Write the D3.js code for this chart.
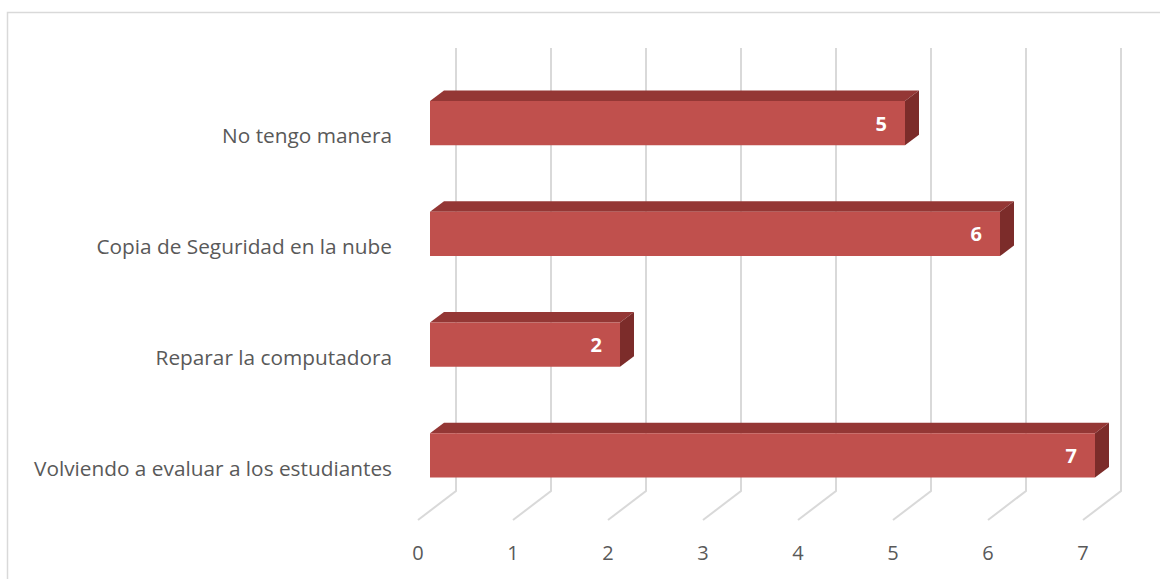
<!DOCTYPE html>
<html>
<head>
<meta charset="utf-8">
<script src="https://cdn.jsdelivr.net/npm/d3@7"></script>
<style>
  html, body { margin: 0; padding: 0; background: #ffffff; }
  svg { display: block; }
</style>
</head>
<body>
<svg id="chart" width="1160" height="579"></svg>
<script>
// Categories listed top to bottom, with their counts
const categories = [
  "No tengo manera",
  "Copia de Seguridad en la nube",
  "Reparar la computadora",
  "Volviendo a evaluar a los estudiantes"
];
const values = [5, 6, 2, 7];
const tickValues = [0, 1, 2, 3, 4, 5, 6, 7];

const svg = d3.select("#chart");
const FONT = "'Open Sans', 'Noto Sans', sans-serif";

// 3D projection: depth runs from the front plane (d=0) to the back wall (d=1)
const depthDX = 38, depthDY = -29;
const barD0 = 12 / 38, barD1 = 26 / 38;

// Value scale on the front plane
const x = d3.scaleLinear().domain([0, 7]).range([418, 1083]);
// Category bands on the back wall
const yBack = d3.scaleBand().domain(categories).range([48, 491]).paddingInner(0.6).paddingOuter(0.3);
const yBand = d3.scaleBand().domain(categories).range([48, 491]);

const P = (v, yFront, d) => [x(v) + depthDX * d, yFront + depthDY * d];

// Outer frame
svg.append("rect")
  .attr("x", 7.5).attr("y", 12.5)
  .attr("width", 1170).attr("height", 600)
  .attr("fill", "none").attr("stroke", "#d9d9d9").attr("stroke-width", 1.5);

// Gridlines: vertical on the back wall, then diagonal across the floor
const grid = svg.append("g").attr("stroke", "#d9d9d9").attr("stroke-width", 2).attr("fill", "none");
const floorBack = 491;
tickValues.forEach(t => {
  const bx = x(t) + depthDX;
  grid.append("path")
    .attr("d", `M${bx},48 L${bx},${floorBack} L${x(t)},${floorBack - depthDY}`);
});

// Tick labels at the front plane
svg.append("g").selectAll("text").data(tickValues).join("text")
  .attr("x", d => x(d))
  .attr("y", 560)
  .attr("text-anchor", "middle")
  .attr("font-family", FONT)
  .attr("font-size", 20)
  .attr("fill", "#595959")
  .text(d => d);

// Category labels
svg.append("g").selectAll("text").data(categories).join("text")
  .attr("x", 392)
  .attr("y", d => yBand(d) + yBand.bandwidth() / 2 - depthDY + 11)
  .attr("text-anchor", "end")
  .attr("font-family", FONT)
  .attr("font-size", 20.8)
  .attr("fill", "#595959")
  .text(d => d);

// Bars
const bars = svg.append("g");
categories.forEach((c, i) => {
  const v = values[i];
  // band edges projected to the front plane
  const topF = yBack(c) - depthDY;
  const botF = topF + yBack.bandwidth();
  const a = P(0, topF, barD0), b = P(v, topF, barD0), cc = P(v, botF, barD0), dd = P(0, botF, barD0);
  const a2 = P(0, topF, barD1), b2 = P(v, topF, barD1), c2 = P(v, botF, barD1);
  const g = bars.append("g");
  // top face
  g.append("polygon").attr("points", [a, a2, b2, b].map(p => p.join(",")).join(" "))
    .attr("fill", "#943735");
  // right face
  g.append("polygon").attr("points", [b, b2, c2, cc].map(p => p.join(",")).join(" "))
    .attr("fill", "#7c2c2a");
  // front face
  g.append("polygon").attr("points", [a, b, cc, dd].map(p => p.join(",")).join(" "))
    .attr("fill", "#c0504d");
  // value label
  g.append("text")
    .attr("x", b[0] - 18)
    .attr("y", (b[1] + cc[1]) / 2 + 7.5)
    .attr("text-anchor", "end")
    .attr("font-family", FONT)
    .attr("font-weight", "bold")
    .attr("font-size", 20)
    .attr("fill", "#ffffff")
    .text(v);
});
</script>
</body>
</html>
